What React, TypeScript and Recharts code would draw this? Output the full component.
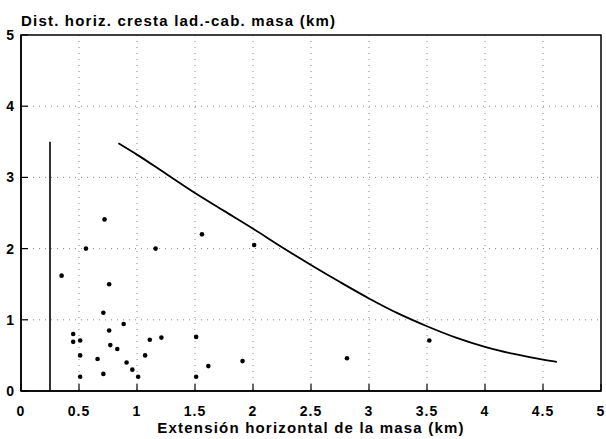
import {
  ComposedChart,
  XAxis,
  YAxis,
  CartesianGrid,
  Line,
  Scatter,
  ReferenceLine,
  ReferenceArea,
} from "recharts";

const xTicks = [0, 0.5, 1, 1.5, 2, 2.5, 3, 3.5, 4, 4.5, 5];
const yTicks = [0, 1, 2, 3, 4, 5];

// observed masses
const massX = [0.35, 0.45, 0.45, 0.51, 0.51, 0.51, 0.56, 0.66, 0.71, 0.71, 0.72, 0.76, 0.76, 0.77, 0.83, 0.885, 0.91, 0.96, 1.01, 1.07, 1.11, 1.16, 1.21, 1.51, 1.51, 1.56, 1.615, 1.91, 2.01, 2.81, 3.52];
const massY = [1.62, 0.8, 0.69, 0.71, 0.5, 0.2, 2.0, 0.45, 1.1, 0.24, 2.41, 1.5, 0.85, 0.645, 0.59, 0.94, 0.4, 0.3, 0.2, 0.5, 0.72, 2.0, 0.75, 0.76, 0.2, 2.2, 0.35, 0.42, 2.05, 0.46, 0.71];

// envelope curve
const curveX = [0.84, 1.0, 1.25, 1.5, 1.75, 2.0, 2.25, 2.5, 2.75, 3.0, 3.25, 3.5, 3.75, 4.0, 4.25, 4.5, 4.62];
const curveY = [3.48, 3.32, 3.05, 2.78, 2.53, 2.28, 2.02, 1.77, 1.53, 1.3, 1.09, 0.91, 0.75, 0.62, 0.52, 0.44, 0.41];

// vertical limit line
const limitX = 0.25;
const limitTop = 3.5;

const points = massX.map((x, i) => ({ x, y: massY[i] }));
const curve = curveX.map((x, i) => ({ x, y: curveY[i] }));

const font = "'Liberation Sans', Arial, sans-serif";

const XTick = (props: any) => {
  const { x, y, payload } = props;
  return (
    <g>
      <line x1={x} x2={x} y1={y} y2={y - 7} stroke="#000" strokeWidth={1.2} />
      <text
        x={x}
        y={y + 25}
        textAnchor="middle"
        fontFamily={font}
        fontWeight="bold"
        fontSize={14}
        letterSpacing={1}
        fill="#000"
      >
        {payload.value}
      </text>
    </g>
  );
};

const YTick = (props: any) => {
  const { x, y, payload } = props;
  return (
    <g>
      <line x1={x} x2={x + 7} y1={y} y2={y} stroke="#000" strokeWidth={1.2} />
      <text
        x={x - 7}
        y={y + 5}
        textAnchor="end"
        fontFamily={font}
        fontWeight="bold"
        fontSize={14}
        fill="#000"
      >
        {payload.value}
      </text>
    </g>
  );
};

const Dot = (props: any) => {
  const { cx, cy } = props;
  return <circle cx={cx} cy={cy} r={2.3} fill="#000" />;
};

const labelStyle = {
  position: "absolute" as const,
  fontFamily: font,
  fontWeight: "bold",
  fontSize: 15,
  letterSpacing: 1.2,
  lineHeight: "16px",
  whiteSpace: "nowrap" as const,
};

export default function App() {
  return (
    <div style={{ position: "absolute", left: 0, top: 0, width: 606, height: 439, background: "#fff" }}>
      <div style={{ ...labelStyle, left: 21, top: 13 }}>Dist. horiz. cresta lad.-cab. masa (km)</div>
      <div style={{ ...labelStyle, left: 0, width: 622, top: 420, textAlign: "center" }}>
        Extensión horizontal de la masa (km)
      </div>
      <ComposedChart width={606} height={439} margin={{ top: 35, right: 5, bottom: 0, left: 0 }}>
        <CartesianGrid
          stroke="#888"
          strokeDasharray="1 5"
          horizontal
          vertical
          verticalValues={[0.5, 1, 1.5, 2, 2.5, 3, 3.5, 4, 4.5]}
          horizontalValues={[1, 2, 3, 4]}
        />
        <XAxis
          type="number"
          dataKey="x"
          domain={[0, 5]}
          ticks={xTicks}
          height={48}
          tickSize={0}
          tickMargin={0}
          tickLine={false}
          axisLine={{ stroke: "#000", strokeWidth: 1.5 }}
          tick={<XTick />}
          interval={0}
        />
        <YAxis
          type="number"
          dataKey="y"
          domain={[0, 5]}
          ticks={yTicks}
          width={21}
          tickSize={0}
          tickMargin={0}
          tickLine={false}
          axisLine={{ stroke: "#000", strokeWidth: 1.5 }}
          tick={<YTick />}
          interval={0}
        />
        <ReferenceArea x1={0} x2={5} y1={0} y2={5} fill="none" stroke="#000" strokeWidth={1.5} />
        <ReferenceLine
          segment={[
            { x: limitX, y: 0 },
            { x: limitX, y: limitTop },
          ]}
          stroke="#000"
          strokeWidth={1.6}
        />
        <Line
          data={curve}
          dataKey="y"
          type="monotone"
          stroke="#000"
          strokeWidth={1.8}
          dot={false}
          isAnimationActive={false}
        />
        <Scatter data={points} dataKey="y" shape={<Dot />} isAnimationActive={false} />
      </ComposedChart>
    </div>
  );
}
